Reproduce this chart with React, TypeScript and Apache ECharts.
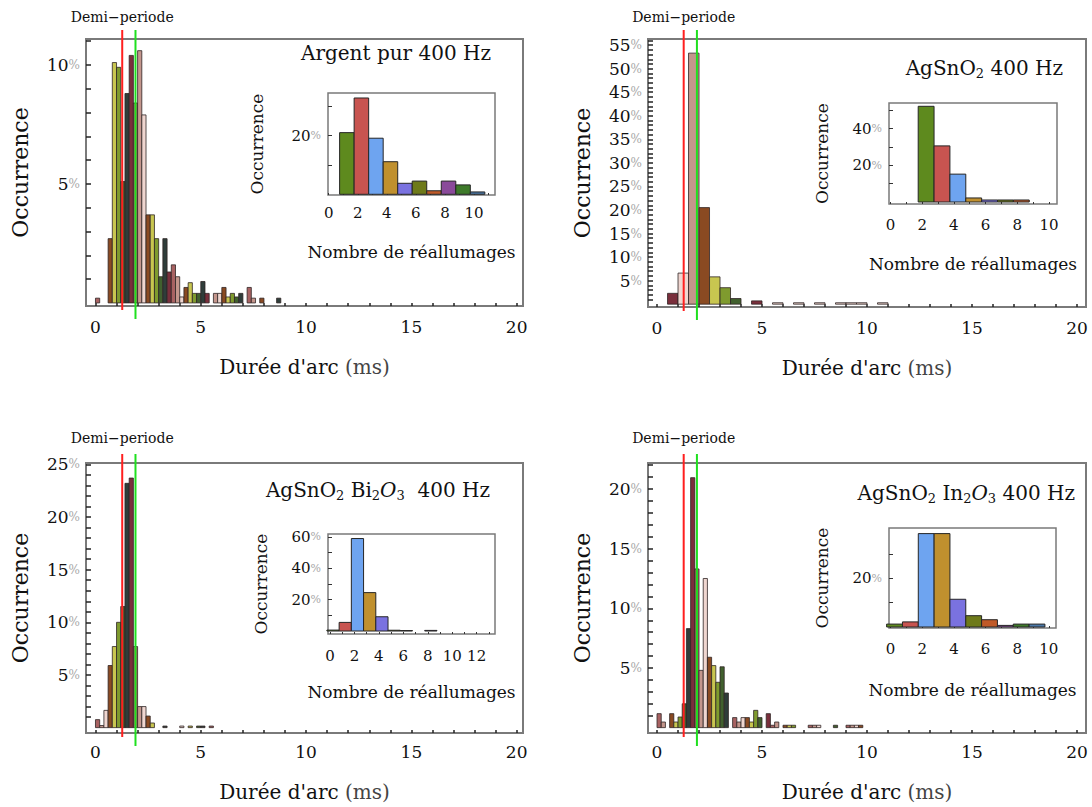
import React, { useEffect, useRef } from "react";
import * as echarts from "echarts";

const FONT = '"DejaVu Serif", "Liberation Serif", serif';

// ---------- Main histograms (arc duration, ms) ----------
// Argent pur 400 Hz — bins of 0.2 ms (bin index k -> [0.2k, 0.2k+0.2])
const argentBins = [0, 3, 4, 5, 6, 7, 8, 9, 10, 11, 12, 13, 14, 15, 16, 17, 18, 19, 20, 21, 22, 23, 24, 25, 26, 28, 29, 30, 31, 32, 33, 34, 36, 37, 39, 43];
const argentPct = [0.2, 2.7, 10.1, 9.9, 5.1, 8.8, 10.4, 8.4, 10.6, 7.9, 3.7, 3.7, 2.7, 1.1, 2.7, 1.3, 1.6, 1.1, 0.25, 0.65, 0.85, 0.4, 0.4, 0.9, 0.4, 0.4, 0.4, 0.65, 0.25, 0.4, 0.25, 0.4, 0.65, 0.2, 0.2, 0.2];

// AgSnO2 400 Hz — bins of 0.5 ms
const agsnoBins = [1, 2, 3, 4, 5, 6, 7, 9, 11, 13, 15, 17, 18, 19, 21];
const agsnoPct = [2.3, 6.6, 53.3, 20.5, 5.8, 3.5, 1.2, 0.7, 0.3, 0.3, 0.3, 0.3, 0.3, 0.3, 0.3];

// AgSnO2 Bi2O3 400 Hz — bins of 0.2 ms
const bismuthBins = [0, 1, 2, 3, 4, 5, 6, 7, 8, 9, 10, 11, 12, 13, 16, 20, 22, 24, 25, 27];
const bismuthPct = [0.76, 0.2, 1.64, 5.9, 7.7, 10.0, 11.5, 23.2, 23.7, 7.7, 2.0, 2.0, 1.1, 0.44, 0.15, 0.15, 0.15, 0.15, 0.15, 0.15];

// AgSnO2 In2O3 400 Hz — bins of 0.2 ms
const indiumBins = [0, 1, 3, 4, 5, 6, 7, 8, 9, 10, 11, 12, 13, 14, 15, 16, 18, 19, 20, 21, 22, 23, 24, 26, 27, 28, 30, 31, 32, 36, 37, 38, 42, 45, 46, 47, 48];
const indiumPct = [1.17, 0.47, 1.17, 0.47, 0.89, 2.0, 8.3, 20.95, 13.3, 4.8, 12.5, 5.9, 5.2, 3.8, 5.1, 2.9, 0.84, 0.47, 0.84, 0.84, 0.47, 1.45, 0.84, 1.17, 0.2, 0.47, 0.2, 0.2, 0.2, 0.2, 0.2, 0.2, 0.2, 0.2, 0.2, 0.2, 0.2];

// ---------- Insets (number of re-ignitions) ----------
const argentReN = [1, 2, 3, 4, 5, 6, 7, 8, 9, 10];
const argentRePct = [21.0, 32.8, 19.1, 11.1, 3.75, 4.5, 1.2, 4.5, 3.2, 0.8];
const agsnoReN = [2, 3, 4, 5, 6, 7, 8];
const agsnoRePct = [52.2, 30.6, 15.2, 2.2, 1.1, 1.1, 1.1];
const bismuthReN = [0, 1, 2, 3, 4, 5, 6, 8];
const bismuthRePct = [0.6, 5.5, 59, 24.5, 9.1, 0.5, 0.3, 0.4];
const indiumReN = [0, 1, 2, 3, 4, 5, 6, 7, 8, 9];
const indiumRePct = [1.2, 2.1, 38.4, 38.4, 11.4, 4.65, 3.0, 0.66, 1.2, 1.2];

// ---------- Texts / tick labels ----------
const titles = [
  "Argent pur 400 Hz",
  "AgSnO{s|2} 400 Hz",
  "AgSnO{s|2} Bi{s|2}{i|O}{s|3}  400 Hz",
  "AgSnO{s|2} In{s|2}{i|O}{s|3} 400 Hz",
];
const durationTickLabels = [0, 5, 10, 15, 20];
const mainYLabels = [[5, 10], [5, 10, 15, 20, 25, 30, 35, 40, 45, 50, 55], [5, 10, 15, 20, 25], [5, 10, 15, 20]];
const insetYLabels = [[20], [20, 40], [20, 40, 60], [20]];
const insetYTicks = [[10, 20, 30], [10, 20, 30, 40, 50], [10, 20, 30, 40, 50, 60], [10, 20, 30]];
const insetXLabels = [[0, 2, 4, 6, 8, 10], [0, 2, 4, 6, 8, 10], [0, 2, 4, 6, 8, 10, 12], [0, 2, 4, 6, 8, 10]];
const halfPeriodMs = 1.27;
const greenMarkMs = 1.9;

// ---------- Styles ----------
const MAIN_PALETTE = ["#8a4a22", "#c8c650", "#7f9b2e", "#41602e", "#2f3d3a", "#7a2f3c", "#a86262", "#c4968c", "#efd6d0"];
const INSET_PALETTE = ["#5e8a1e", "#c85450", "#6ea4f0", "#c0902e", "#7a72e0", "#6e7a1a", "#c05a28", "#8a4a9a", "#3e7a2a", "#4a78a8"];
// explicit palette indices for the AgSnO2 histogram bars
const agsnoColorIdx = [5, 8, 7, 0, 1, 2, 3, 5, 8, 8, 8, 8, 8, 8, 8];

// layout of main plots (pixels) and axis ranges
const MAIN = [
  { left: 86, top: 39, width: 437, height: 267, xMin: -0.45, xMax: 20.3, yMin: -0.13, yMax: 11.09, yTickMax: 11, labelTop: 22, xNameGap: 51, xLabelMargin: 12 },
  { left: 648, top: 39, width: 438, height: 268, xMin: -0.43, xMax: 20.43, yMin: -0.6, yMax: 56.3, yTickMax: 56, labelTop: 22, xNameGap: 51, xLabelMargin: 12 },
  { left: 86, top: 463, width: 437, height: 270, xMin: -0.45, xMax: 20.3, yMin: -0.51, yMax: 25.13, yTickMax: 25, labelTop: 25, xNameGap: 49, xLabelMargin: 10 },
  { left: 648, top: 463, width: 438, height: 270, xMin: -0.43, xMax: 20.43, yMin: -0.45, yMax: 22.18, yTickMax: 22, labelTop: 25, xNameGap: 49, xLabelMargin: 10 },
];
const INSET = [
  { left: 328, top: 93, width: 167, height: 102, xMin: -0.05, xMax: 11.45, yMin: -0.24, yMax: 34.5, yNameGap: 63, xNameGap: 48, xLabelMargin: 10, xTickMax: 11 },
  { left: 889, top: 103, width: 168, height: 101, xMin: -0.09, xMax: 10.5, yMin: -1.09, yMax: 54, yNameGap: 59, xNameGap: 51, xLabelMargin: 13, xTickMax: 10 },
  { left: 328, top: 534, width: 167, height: 100, xMin: -0.16, xMax: 13.5, yMin: -1.9, yMax: 61.9, yNameGap: 59, xNameGap: 49, xLabelMargin: 14, xTickMax: 13 },
  { left: 889, top: 528, width: 167, height: 100, xMin: -0.1, xMax: 10.45, yMin: -0.41, yMax: 40.7, yNameGap: 59, xNameGap: 53, xLabelMargin: 13, xTickMax: 10 },
];
const TITLE_POS = [
  { right: 1092 - 491, cy: 53 },
  { right: 1092 - 1063, cy: 68 },
  { right: 1092 - 490, cy: 490 },
  { right: 1092 - 1075, cy: 493 },
];

const range = (a: number, b: number) => {
  const r: number[] = [];
  for (let i = a; i <= b; i++) r.push(i);
  return r;
};

function pctRich(numSize: number, pSize: number) {
  return {
    n: { fontSize: numSize, fontFamily: FONT, color: "#111" },
    p: { fontSize: pSize, fontFamily: FONT, color: "#a8a8a8" },
  };
}

function buildOption() {
  const grids: any[] = [];
  const xAxes: any[] = [];
  const yAxes: any[] = [];
  const series: any[] = [];

  const mainData = [
    { bins: argentBins, pct: argentPct, w: 0.2, color: (k: number, j: number) => MAIN_PALETTE[(k + 6) % 9] },
    { bins: agsnoBins, pct: agsnoPct, w: 0.5, color: (k: number, j: number) => MAIN_PALETTE[agsnoColorIdx[j]] },
    { bins: bismuthBins, pct: bismuthPct, w: 0.2, color: (k: number, j: number) => MAIN_PALETTE[(k + 6) % 9] },
    { bins: indiumBins, pct: indiumPct, w: 0.2, color: (k: number, j: number) => MAIN_PALETTE[(k + 6) % 9] },
  ];
  const insetData = [
    { n: argentReN, pct: argentRePct },
    { n: agsnoReN, pct: agsnoRePct },
    { n: bismuthReN, pct: bismuthRePct },
    { n: indiumReN, pct: indiumRePct },
  ];

  MAIN.forEach((m, i) => {
    grids.push({
      left: m.left, top: m.top, width: m.width, height: m.height,
      show: true, borderColor: "#7a7a7a", borderWidth: 2, backgroundColor: "transparent",
      containLabel: false, outerBoundsMode: "none", z: 0,
    });
    xAxes.push({
      gridIndex: i, type: "value", min: m.xMin, max: m.xMax,
      axisLine: { show: false, onZero: false },
      splitLine: { show: false },
      axisTick: { show: true, inside: true, length: 3, customValues: range(0, 20), lineStyle: { color: "#222", width: 1.5 } },
      axisLabel: { customValues: durationTickLabels, margin: m.xLabelMargin, fontSize: 17, fontFamily: FONT, color: "#111" },
      name: "Durée d'arc {g|(ms)}", nameLocation: "middle", nameGap: m.xNameGap,
      nameTextStyle: { fontSize: 20, fontFamily: FONT, color: "#111", rich: { g: { fontSize: 20, fontFamily: FONT, color: "#444" } } },
    });
    yAxes.push({
      gridIndex: i, type: "value", min: m.yMin, max: m.yMax,
      axisLine: { show: false, onZero: false },
      splitLine: { show: false },
      axisTick: { show: true, inside: true, length: 5, customValues: range(1, m.yTickMax), lineStyle: { color: "#222", width: 1.5 } },
      axisLabel: {
        customValues: mainYLabels[i], margin: 6,
        formatter: (v: number) => `{n|${v}}{p|%}`,
        rich: pctRich(17, 12),
      },
      name: "Occurrence", nameLocation: "middle", nameRotate: 90, nameGap: 55,
      nameTextStyle: { fontSize: 22, fontFamily: FONT, color: "#111" },
    });
    const d = mainData[i];
    const w = d.w;
    series.push({
      type: "custom", xAxisIndex: i, yAxisIndex: i, z: 2, clip: false, silent: true,
      data: d.bins.map((k, j) => [k * w, d.pct[j], k, j]),
      encode: { x: 0, y: 1 },
      renderItem: (params: any, api: any) => {
        const x0 = api.value(0), v = api.value(1), k = api.value(2), j = api.value(3);
        const a = api.coord([x0, 0]);
        const b = api.coord([x0 + w, v]);
        return {
          type: "rect",
          shape: { x: a[0], y: b[1], width: b[0] - a[0], height: a[1] - b[1] },
          style: { fill: d.color(k, j), stroke: "#2e2424", lineWidth: 0.8 },
        };
      },
    });
    // half-period (red) and green reference lines
    const lines = [
      { x: halfPeriodMs, color: "#ff1f1f", extra: 4, label: true },
      { x: greenMarkMs, color: "#1fe01f", extra: 13, label: false },
    ];
    lines.forEach((ln) => {
      series.push({
        type: "custom", xAxisIndex: i, yAxisIndex: i, z: 3, clip: false, silent: true,
        data: [[ln.x, 0]],
        encode: { x: 0, y: 1 },
        renderItem: (params: any, api: any) => {
          const px = api.coord([api.value(0), 0])[0];
          const cs = params.coordSys;
          const children: any[] = [
            { type: "line", shape: { x1: px, y1: cs.y - 9, x2: px, y2: cs.y + cs.height + ln.extra }, style: { stroke: ln.color, lineWidth: 2 } },
          ];
          if (ln.label) {
            children.push({
              type: "text",
              style: { text: "Demi−periode", x: px, y: cs.y - m.labelTop, align: "center", verticalAlign: "middle", fontSize: 14, fontFamily: FONT, fill: "#111" },
            });
          }
          return { type: "group", children };
        },
      });
    });
  });

  INSET.forEach((s, i) => {
    const gi = 4 + i;
    grids.push({
      left: s.left, top: s.top, width: s.width, height: s.height,
      show: true, borderColor: "#7a7a7a", borderWidth: 1.5, backgroundColor: "#ffffff",
      containLabel: false, outerBoundsMode: "none", z: 5,
    });
    xAxes.push({
      gridIndex: gi, type: "value", min: s.xMin, max: s.xMax, z: 6,
      axisLine: { show: false, onZero: false },
      splitLine: { show: false },
      axisTick: { show: true, inside: true, length: 2, customValues: range(0, s.xTickMax), lineStyle: { color: "#333", width: 1 } },
      axisLabel: { customValues: insetXLabels[i], margin: s.xLabelMargin, fontSize: 15, fontFamily: FONT, color: "#111" },
      name: "Nombre de réallumages", nameLocation: "middle", nameGap: s.xNameGap,
      nameTextStyle: { fontSize: 17, fontFamily: FONT, color: "#111" },
    });
    yAxes.push({
      gridIndex: gi, type: "value", min: s.yMin, max: s.yMax, z: 6,
      axisLine: { show: false, onZero: false },
      splitLine: { show: false },
      axisTick: { show: true, inside: true, length: 4, customValues: insetYTicks[i], lineStyle: { color: "#333", width: 1 } },
      axisLabel: {
        customValues: insetYLabels[i], margin: 7,
        formatter: (v: number) => `{n|${v}}{p|%}`,
        rich: pctRich(15, 11),
      },
      name: "Occurrence", nameLocation: "middle", nameRotate: 90, nameGap: s.yNameGap,
      nameTextStyle: { fontSize: 17, fontFamily: FONT, color: "#111" },
    });
    const d = insetData[i];
    series.push({
      type: "custom", xAxisIndex: gi, yAxisIndex: gi, z: 7, clip: false, silent: true,
      data: d.n.map((n, j) => [n, d.pct[j], j]),
      encode: { x: 0, y: 1 },
      renderItem: (params: any, api: any) => {
        const n = api.value(0), v = api.value(1), j = api.value(2);
        const a = api.coord([n - 0.25, 0]);
        const b = api.coord([n + 0.75, v]);
        return {
          type: "rect",
          shape: { x: a[0], y: b[1], width: b[0] - a[0], height: a[1] - b[1] },
          style: { fill: INSET_PALETTE[j % INSET_PALETTE.length], stroke: "#262626", lineWidth: 1 },
        };
      },
    });
  });

  const title = titles.map((t, i) => ({
    text: t,
    right: TITLE_POS[i].right,
    top: TITLE_POS[i].cy - 12,
    padding: 0,
    textStyle: {
      fontSize: 20, fontFamily: FONT, fontWeight: "normal", color: "#111", lineHeight: 24,
      rich: {
        i: { fontSize: 20, fontFamily: FONT, fontStyle: "italic", color: "#111", lineHeight: 24 },
        s: { fontSize: 13, fontFamily: FONT, color: "#111", lineHeight: 14, verticalAlign: "bottom" },
      },
    },
  }));

  return {
    animation: false,
    backgroundColor: "#ffffff",
    title,
    grid: grids,
    xAxis: xAxes,
    yAxis: yAxes,
    series,
  };
}

export default function App() {
  const ref = useRef<HTMLDivElement>(null);
  useEffect(() => {
    if (!ref.current) return;
    const chart = echarts.init(ref.current, null, { renderer: "svg" });
    chart.setOption(buildOption() as any);
    return () => chart.dispose();
  }, []);
  return (
    <div
      ref={ref}
      style={{ position: "absolute", left: 0, top: 0, width: 1092, height: 807, background: "#fff" }}
    />
  );
}
